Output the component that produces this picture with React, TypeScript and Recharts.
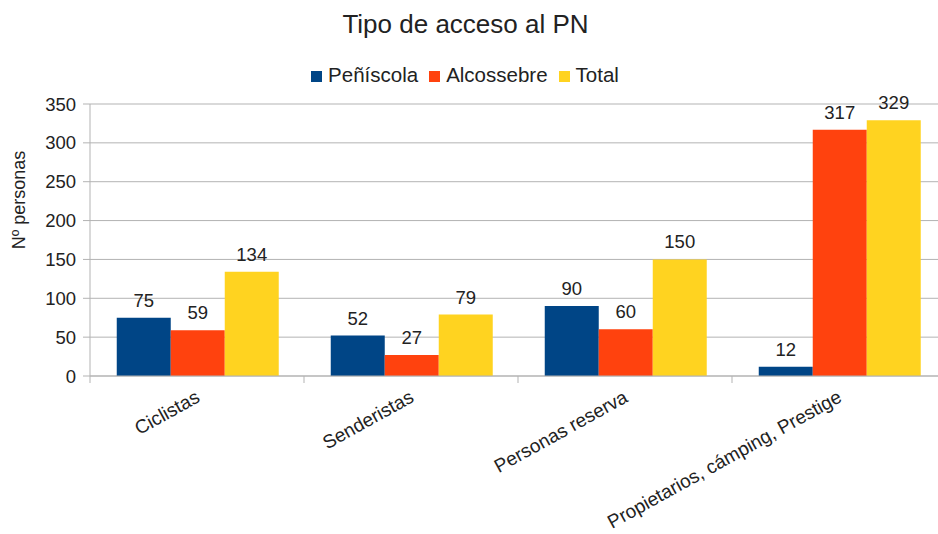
import { BarChart, Bar, XAxis, YAxis, CartesianGrid, LabelList } from "recharts";

const categories = [
    "Ciclistas",
    "Senderistas",
    "Personas reserva",
    "Propietarios, cámping, Prestige",
];
const peniscola = [75, 52, 90, 12];
const alcossebre = [59, 27, 60, 317];
const total = [134, 79, 150, 329];
const yTicks = [0, 50, 100, 150, 200, 250, 300, 350];

const series = [
    { key: "Peñíscola", color: "#004586", values: peniscola },
    { key: "Alcossebre", color: "#ff420e", values: alcossebre },
    { key: "Total", color: "#ffd320", values: total },
];

const data = categories.map((name, i) => {
    const row: Record<string, string | number> = { name };
    series.forEach((s) => {
        row[s.key] = s.values[i];
    });
    return row;
});

const FONT = '"Liberation Sans", Arial, sans-serif';
const TEXT = "#222";
const GRID = "#b3b3b3";
const CHART_W = 946;
const PLOT_LEFT = 90;
const HALF_BAND = (CHART_W - PLOT_LEFT) / categories.length / 2;

const CategoryTick = (props: any) => {
    const { x, y, payload } = props;
    const tx = x + 4;
    const ty = y + 25;
    return (
        <g>
            <line x1={x - HALF_BAND} y1={y} x2={x - HALF_BAND} y2={y + 7} stroke={GRID} />
            <text
                x={tx}
                y={ty}
                textAnchor="end"
                transform={`rotate(-29 ${tx} ${ty})`}
                fill={TEXT}
                fontSize={19}
                fontFamily={FONT}
            >
                {payload.value}
            </text>
        </g>
    );
};

const YTitle = (props: any) => {
    const { viewBox } = props;
    const cx = viewBox.x + 19;
    const cy = viewBox.y + viewBox.height / 2 - 40;
    return (
        <text
            x={cx}
            y={cy}
            textAnchor="middle"
            dominantBaseline="central"
            transform={`rotate(-90 ${cx} ${cy})`}
            fill={TEXT}
            fontSize={18}
            fontFamily={FONT}
        >
            Nº personas
        </text>
    );
};

const App = () => {
    return (
        <div
            style={{
                position: "absolute",
                left: 0,
                top: 0,
                width: 938,
                height: 534,
                overflow: "hidden",
                background: "#fff",
                fontFamily: FONT,
            }}
        >
            <div
                style={{
                    position: "absolute",
                    top: 11,
                    left: 0,
                    width: 931,
                    textAlign: "center",
                    fontSize: 26,
                    lineHeight: 1,
                    color: TEXT,
                }}
            >
                Tipo de acceso al PN
            </div>
            <div
                style={{
                    position: "absolute",
                    top: 63,
                    left: 0,
                    width: 930,
                    display: "flex",
                    justifyContent: "center",
                    alignItems: "center",
                    fontSize: 20.5,
                    lineHeight: "24px",
                    color: TEXT,
                }}
            >
                {series.map((s) => (
                    <div
                        key={s.key}
                        style={{ display: "flex", alignItems: "center", margin: "0 5.5px" }}
                    >
                        <span
                            style={{
                                display: "inline-block",
                                width: 11,
                                height: 11,
                                background: s.color,
                                marginRight: 6,
                                marginTop: 3,
                            }}
                        />
                        <span>{s.key}</span>
                    </div>
                ))}
            </div>
            <BarChart
                width={CHART_W}
                height={534}
                data={data}
                margin={{ top: 104, right: 0, bottom: 0, left: 0 }}
                barCategoryGap="12.5%"
                barGap={0}
                style={{ position: "absolute", left: 0, top: 0 }}
            >
                <CartesianGrid vertical={false} stroke={GRID} />
                <XAxis
                    dataKey="name"
                    height={158}
                    interval={0}
                    tickSize={0}
                    tickMargin={0}
                    tick={<CategoryTick />}
                    axisLine={{ stroke: GRID }}
                />
                <YAxis
                    width={PLOT_LEFT}
                    domain={[0, 350]}
                    ticks={yTicks}
                    interval={0}
                    tickSize={7}
                    tickMargin={7}
                    tick={{ fill: TEXT, fontSize: 18.5, fontFamily: FONT }}
                    tickLine={{ stroke: GRID }}
                    axisLine={{ stroke: GRID }}
                    label={<YTitle />}
                />
                {series.map((s) => (
                    <Bar key={s.key} dataKey={s.key} fill={s.color} isAnimationActive={false}>
                        <LabelList
                            dataKey={s.key}
                            position="top"
                            offset={11}
                            fill={TEXT}
                            fontSize={18.5}
                            fontFamily={FONT}
                        />
                    </Bar>
                ))}
            </BarChart>
        </div>
    );
};

export default App;
